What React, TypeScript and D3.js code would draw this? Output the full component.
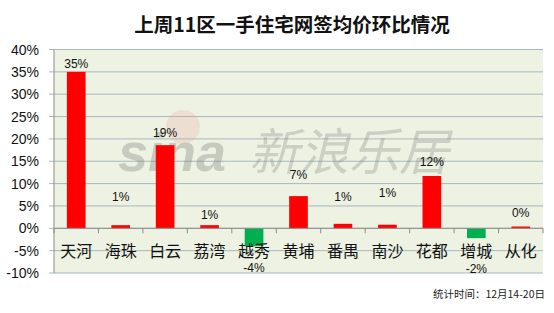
import React from "react";
import * as d3 from "d3";

// Week-on-week change of new-home contract prices, 11 districts
const districts = ["天河", "海珠", "白云", "荔湾", "越秀", "黄埔", "番禺", "南沙", "花都", "增城", "从化"];
const changes = [0.35, 0.007, 0.186, 0.007, -0.04, 0.072, 0.01, 0.008, 0.117, -0.022, 0.004];
// Where each value label sits, in axis units
const labelLevels = [0.368, 0.07, 0.215, 0.03, -0.087, 0.121, 0.07, 0.079, 0.148, -0.091, 0.034];
const yTicks = [-0.1, -0.05, 0, 0.05, 0.1, 0.15, 0.2, 0.25, 0.3, 0.35, 0.4];
const titleText = "上周11区一手住宅网签均价环比情况";
const noteText = "统计时间：12月14-20日";

const W = 554;
const H = 313;
const plot = { left: 54, right: 543, top: 49.5, bottom: 273 };
const cjk = "'Noto Sans CJK SC', 'Noto Sans', sans-serif";
const latin = "'Liberation Sans', Arial, sans-serif";

// percent format with a plain hyphen for negatives
const locale = d3.formatLocale({ decimal: ".", thousands: ",", grouping: [3], currency: ["", ""], minus: "-" });
const pct = locale.format(".0%");

export default function App() {
  const x = d3.scaleBand<string>().domain(districts).range([plot.left, plot.right]).paddingInner(0.58).paddingOuter(0.29);
  const y = d3.scaleLinear().domain([-0.1, 0.4]).range([plot.bottom, plot.top]);
  const step = x.step();
  const zeroY = y(0);

  return (
    <svg width={W} height={H} style={{ position: "absolute", left: 0, top: 0, background: "#ffffff" }}>
      <rect x={plot.left} y={plot.top} width={plot.right - plot.left} height={plot.bottom - plot.top} fill="#edf2e2" />
      {yTicks.map((t) => (
        <g key={t}>
          <line x1={plot.left - 5} x2={plot.right} y1={y(t)} y2={y(t)} stroke="#a8b8bf" strokeWidth={1} />
          <text x={39} y={y(t)} dy="0.36em" textAnchor="end" fontFamily={latin} fontSize={14} fill="#111">
            {pct(t)}
          </text>
        </g>
      ))}
      <line x1={plot.left} x2={plot.left} y1={plot.top} y2={plot.bottom} stroke="#8c8c8c" strokeWidth={1} />

      {/* watermark */}
      <g opacity={0.32}>
        <circle cx={183} cy={127} r={17} fill="#e8a0a0" opacity={0.7} />
        <text x={118} y={171} fontFamily={latin} fontWeight="bold" fontStyle="italic" fontSize={54} fill="#777">sina</text>
        <text x={249} y={170} fontFamily={cjk} fontSize={50} fill="#888" fontStyle="italic">新浪乐居</text>
      </g>

      {districts.map((d, i) => {
        const v = changes[i];
        const bx = x(d)!;
        return (
          <rect
            key={d}
            x={bx}
            y={Math.min(y(v), zeroY)}
            width={x.bandwidth()}
            height={Math.abs(y(v) - zeroY)}
            fill={v >= 0 ? "#ff0000" : "#00b050"}
          />
        );
      })}

      <line x1={plot.left} x2={plot.right} y1={zeroY} y2={zeroY} stroke="#8c8c8c" strokeWidth={1} />
      {d3.range(districts.length + 1).map((k) => {
        const tx = plot.left + k * step;
        return <line key={k} x1={tx} x2={tx} y1={zeroY} y2={zeroY + 5} stroke="#8c8c8c" strokeWidth={1} />;
      })}

      {districts.map((d) => (
        <text key={d} x={x(d)! + x.bandwidth() / 2} y={251} dy="0.36em" textAnchor="middle" fontFamily={cjk} fontSize={16} fill="#111">
          {d}
        </text>
      ))}

      {districts.map((d, i) => (
        <text
          key={d + "-v"}
          x={x(d)! + x.bandwidth() / 2}
          y={y(labelLevels[i])}
          dy="0.36em"
          textAnchor="middle"
          fontFamily={latin}
          fontSize={12}
          fill="#111"
        >
          {pct(Math.round(changes[i] * 100) / 100)}
        </text>
      ))}

      <text x={292} y={25} dy="0.36em" textAnchor="middle" fontFamily={cjk} fontWeight="bold" fontSize={19.5} fill="#111">
        {titleText}
      </text>
      <text x={545} y={294} dy="0.36em" textAnchor="end" fontFamily={cjk} fontSize={10.5} fill="#222">
        {noteText}
      </text>
    </svg>
  );
}
